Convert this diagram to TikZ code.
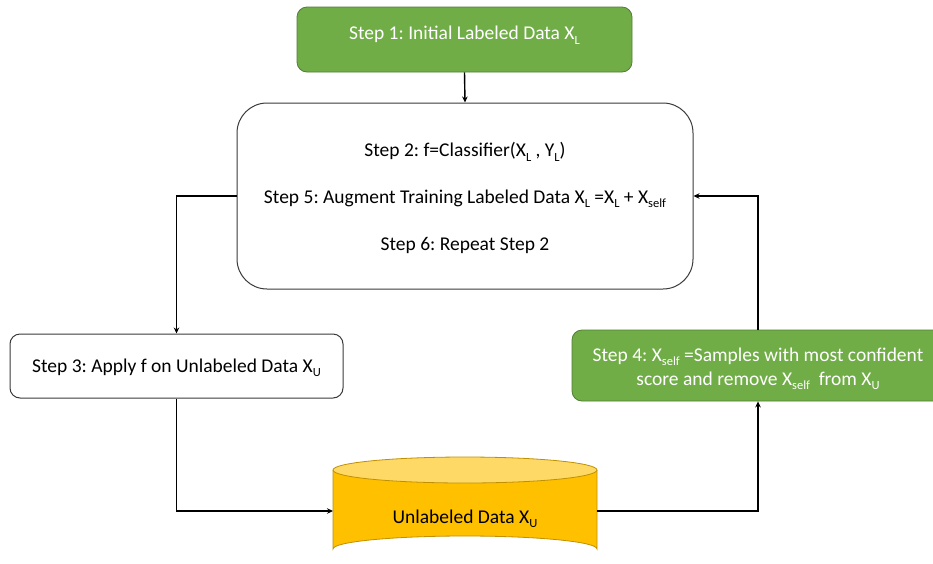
\documentclass[tikz,border=0pt]{standalone}
\usepackage{fontspec}
\setmainfont{Carlito}
\usetikzlibrary{arrows.meta}
\definecolor{stepgreen}{HTML}{70AD47}
\definecolor{stepgreenline}{HTML}{507E32}
\definecolor{dbfill}{HTML}{FFC000}
\definecolor{dbtop}{HTML}{FFD966}
\definecolor{dbline}{HTML}{BF9000}
\definecolor{boxline}{HTML}{3A3A3A}
% lowered, smaller index letters
\newcommand{\sub}[1]{\raisebox{-4.5pt}{\fontsize{12.5}{13}\selectfont #1}}
\frenchspacing
\begin{document}
\begin{tikzpicture}[x=1pt,y=-1pt,
  every node/.style={font=\fontsize{19.5}{24}\selectfont},
  greenbox/.style={draw=stepgreenline,fill=stepgreen,line width=0.8pt,rounded corners=10pt,inner sep=0pt},
  whitebox/.style={draw=boxline,fill=white,line width=1pt,inner sep=0pt},
  conn/.style={line width=1.4pt,-{Stealth[length=6pt,width=5.5pt]}},
  txt/.style={inner sep=0pt,anchor=center},
]
\useasboundingbox (0,0) rectangle (933,563);

% step 1
\node[greenbox,minimum width=335pt,minimum height=65pt] (s1) at (464.5,39.5) {};
\node[txt,text=white] (s1t) at (464.5,35) {Step 1: Initial Labeled Data X\sub{L}};

% main loop box
\node[whitebox,rounded corners=30pt,minimum width=456pt,minimum height=186pt] (big) at (465,196) {};
\node[txt] (s2t) at (465,152) {Step 2: f=Classifier(X\sub{L} , Y\sub{L})};
\node[txt] (s5t) at (465,199) {Step 5: Augment Training Labeled Data X\sub{L} =X\sub{L} + X\sub{self}};
\node[txt] (s6t) at (465,245) {Step 6: Repeat Step 2};

% step 3
\node[whitebox,rounded corners=10pt,minimum width=333pt,minimum height=64pt] (s3) at (176.5,366) {};
\node[txt] (s3t) at (176.5,368) {Step 3: Apply f on Unlabeled Data X\sub{U}};

% step 4
\node[greenbox,minimum width=372pt,minimum height=71pt] (s4) at (758,365.5) {};
\node[txt,text=white,align=center] (s4t) at (758,369) {Step 4: X\sub{self} =Samples with most confident\\[0pt]score and remove X\sub{self}\ \ from X\sub{U}};

% unlabeled data store
\fill[dbfill] (333,470) -- (333,549) arc[start angle=180,end angle=360,x radius=132,y radius=13] -- (597,470) -- cycle;
\draw[dbline,line width=0.8pt] (333,470) -- (333,549) arc[start angle=180,end angle=360,x radius=132,y radius=13] -- (597,470);
\draw[dbline,fill=dbtop,line width=0.8pt] (465,470) ellipse[x radius=132,y radius=13];
\coordinate (dbw) at (333,511);
\coordinate (dbe) at (597,511);
\node[txt] (dbt) at (465,519) {Unlabeled Data X\sub{U}};

% connectors
\draw[conn] (s1.south) -- (big.north);
\draw[conn] (big.west) -| (s3.north);
\draw[conn] (s3.south) |- (dbw);
\draw[conn] (dbe) -| (s4.south);
\draw[conn] (s4.north) |- (big.east);
\end{tikzpicture}
\end{document}
